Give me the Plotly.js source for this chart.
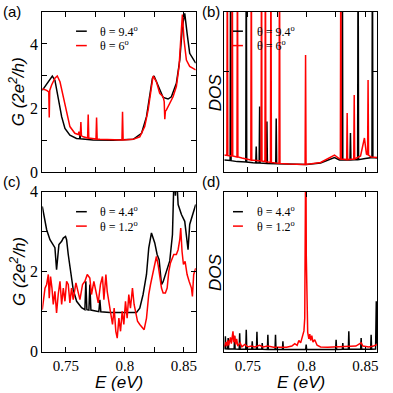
<!DOCTYPE html>
<html>
<head>
<meta charset="utf-8">
<script src="https://cdn.plot.ly/plotly-3.0.1.min.js"></script>
<style>
  body { margin: 0; padding: 0; background: #fff; }
  #plot { width: 393px; height: 393px; }
</style>
</head>
<body>
<div id="plot"></div>
<script>
// panel (a): conductance, theta = 9.4 and 6 deg
let aE_black = [0.730, 0.7351, 0.7385, 0.7407, 0.7435, 0.7464, 0.7492, 0.7534, 0.759, 0.7617, 0.762, 0.7623, 0.7731, 0.790, 0.807, 0.8141, 0.8183, 0.8211, 0.8233, 0.8247, 0.8273, 0.8295, 0.8324, 0.8366, 0.8394, 0.8436, 0.8465, 0.8487, 0.8507, 0.8527, 0.8549, 0.860]
let aG_black = [2.55, 2.82, 3.0, 2.87, 2.35, 1.73, 1.36, 1.15, 1.05, 1.04, 1.2, 1.04, 1.0, 0.99, 1.02, 1.21, 1.73, 2.46, 2.93, 3.0, 2.77, 2.56, 2.33, 2.28, 2.35, 2.77, 3.5, 4.54, 4.96, 4.33, 3.71, 3.4]
let aE_red = [0.730, 0.7337, 0.7355, 0.7359, 0.7363, 0.7379, 0.7407, 0.7427, 0.745, 0.7478, 0.7506, 0.7534, 0.7576, 0.7605, 0.761, 0.7615, 0.7622, 0.7627, 0.7632, 0.7647, 0.7684, 0.7689, 0.7694, 0.7755, 0.776, 0.7765, 0.7788, 0.7975, 0.798, 0.7985, 0.807, 0.8126, 0.8168, 0.8197, 0.8219, 0.8239, 0.8267, 0.8295, 0.8324, 0.8333, 0.8338, 0.8343, 0.8352, 0.838, 0.8408, 0.8436, 0.8459, 0.8473, 0.8487, 0.8501, 0.8521, 0.8549, 0.860]
let aG_red = [2.6, 2.55, 2.5, 1.7, 2.55, 2.72, 2.93, 3.0, 2.82, 2.35, 1.83, 1.42, 1.21, 1.17, 1.26, 1.16, 1.14, 1.56, 1.13, 1.1, 1.06, 1.8, 1.06, 1.03, 1.7, 1.03, 1.02, 1.0, 1.88, 1.0, 1.02, 1.1, 1.42, 1.94, 2.56, 3.0, 2.82, 2.46, 2.35, 2.2, 1.65, 1.9, 1.94, 2.15, 2.35, 2.67, 3.3, 4.13, 4.92, 4.13, 3.5, 3.3, 3.19]

// panel (b): DOS, theta = 9.4 and 6 deg (peaks that leave the frame are set to 12)
let bE_black = [0.730, 0.735, 0.7354, 0.7358, 0.741, 0.7483, 0.7487, 0.7491, 0.7545, 0.7568, 0.7572, 0.7576, 0.7597, 0.7601, 0.7605, 0.7659, 0.7663, 0.7667, 0.7738, 0.7742, 0.7746, 0.785, 0.800, 0.812, 0.8238, 0.828, 0.8301, 0.8305, 0.8309, 0.837, 0.8374, 0.8378, 0.8435, 0.8439, 0.8443, 0.850, 0.8557, 0.8561, 0.8565, 0.860]
let bD_black = [0.6, 0.58, 12, 0.57, 0.52, 0.5, 12, 0.5, 0.46, 0.45, 1.27, 0.45, 0.45, 3.27, 0.45, 0.43, 2.52, 0.43, 0.41, 2.68, 0.41, 0.38, 0.37, 0.45, 0.72, 0.6, 0.6, 12, 0.6, 0.6, 1.95, 0.6, 0.62, 12, 0.62, 0.68, 0.72, 12, 0.72, 0.7]
let bE_red = [0.730, 0.7322, 0.7326, 0.733, 0.7364, 0.7368, 0.7372, 0.7408, 0.7412, 0.7416, 0.745, 0.7526, 0.753, 0.7534, 0.7613, 0.7617, 0.7621, 0.7646, 0.765, 0.7654, 0.7693, 0.7697, 0.7701, 0.7766, 0.777, 0.7774, 0.785, 0.7988, 0.7992, 0.7996, 0.812, 0.8238, 0.8275, 0.8288, 0.8292, 0.8296, 0.8342, 0.8346, 0.835, 0.8402, 0.8406, 0.841, 0.846, 0.8493, 0.851, 0.852, 0.8524, 0.8528, 0.855, 0.860]
let bD_red = [0.85, 0.83, 12, 0.82, 0.8, 12, 0.8, 0.75, 12, 0.75, 0.7, 0.6, 12, 0.6, 0.55, 12, 0.55, 0.52, 12, 0.52, 0.48, 12, 0.48, 0.43, 12, 0.43, 0.4, 0.38, 5.85, 0.38, 0.48, 0.85, 0.68, 0.65, 12, 0.65, 0.62, 2.95, 0.62, 0.65, 3.85, 0.65, 0.8, 1.7, 0.9, 0.85, 4.6, 0.85, 0.75, 0.72]

// panel (c): conductance, theta = 4.4 and 1.2 deg
let cE_black = [0.730, 0.7317, 0.7337, 0.7365, 0.7379, 0.7407, 0.7421, 0.7441, 0.7464, 0.7478, 0.7497, 0.7506, 0.752, 0.754, 0.7562, 0.7591, 0.7633, 0.7661, 0.7669, 0.7678, 0.7695, 0.7703, 0.7712, 0.7779, 0.7788, 0.7796, 0.7873, 0.8098, 0.8126, 0.8154, 0.8183, 0.8202, 0.8225, 0.8253, 0.8273, 0.829, 0.831, 0.8324, 0.8352, 0.838, 0.8403, 0.8417, 0.8428, 0.8436, 0.8451, 0.8479, 0.8507, 0.8535, 0.8549, 0.8577, 0.860]
let cG_black = [3.63, 3.34, 3.05, 2.8, 2.72, 2.6, 2.05, 2.68, 2.76, 2.84, 2.88, 2.8, 2.43, 2.01, 1.55, 1.26, 1.1, 1.05, 1.76, 1.05, 1.04, 1.68, 1.04, 1.0, 1.3, 1.0, 0.98, 0.98, 1.09, 1.43, 1.93, 2.59, 2.97, 2.72, 2.43, 2.3, 1.68, 1.75, 2.01, 2.27, 2.93, 4.5, 3.9, 4.5, 3.68, 3.43, 3.26, 2.55, 3.18, 3.43, 3.68]
let cE_red = [0.730, 0.7323, 0.7337, 0.7351, 0.7359, 0.737, 0.7382, 0.7393, 0.7407, 0.7421, 0.7435, 0.745, 0.7464, 0.7478, 0.7492, 0.7506, 0.752, 0.7534, 0.7548, 0.7562, 0.7585, 0.7605, 0.7619, 0.7641, 0.7661, 0.7681, 0.7703, 0.7717, 0.7737, 0.776, 0.7774, 0.7793, 0.781, 0.7822, 0.7839, 0.785, 0.7867, 0.7881, 0.7895, 0.7909, 0.7923, 0.7935, 0.7949, 0.7963, 0.7977, 0.7991, 0.8005, 0.8019, 0.8033, 0.8047, 0.8064, 0.8078, 0.8092, 0.8107, 0.8126, 0.8149, 0.8163, 0.8183, 0.8202, 0.8217, 0.8233, 0.8253, 0.8267, 0.8281, 0.8295, 0.831, 0.8324, 0.8343, 0.8358, 0.8372, 0.8386, 0.8403, 0.8414, 0.8436, 0.8451, 0.8465, 0.8473, 0.8484, 0.8496, 0.851, 0.8527, 0.8544, 0.8564, 0.8572, 0.8583, 0.860]
let cG_red = [1.05, 1.59, 1.68, 1.93, 1.34, 1.88, 1.59, 1.18, 1.51, 0.97, 1.43, 1.76, 1.18, 1.59, 1.26, 1.76, 1.68, 1.22, 1.59, 1.3, 1.72, 1.47, 1.3, 1.68, 1.76, 1.93, 1.84, 1.43, 1.76, 1.43, 1.22, 1.68, 1.88, 1.3, 1.93, 1.51, 1.18, 0.93, 0.68, 1.09, 0.51, 0.34, 0.84, 0.51, 1.01, 0.68, 1.26, 0.84, 1.43, 1.09, 1.59, 1.18, 0.93, 0.76, 0.68, 0.59, 0.55, 0.84, 1.43, 1.68, 1.93, 2.26, 2.38, 2.18, 1.84, 1.59, 1.47, 1.47, 1.59, 2.01, 2.22, 2.34, 2.43, 2.43, 2.55, 2.8, 3.09, 2.51, 2.18, 2.26, 1.93, 1.76, 1.59, 1.38, 1.93, 2.09]

// panel (d): DOS, theta = 4.4 and 1.2 deg
let dE_black = [0.730, 0.7305, 0.7309, 0.7313, 0.7329, 0.7333, 0.7337, 0.7384, 0.7388, 0.7392, 0.7427, 0.7431, 0.7435, 0.7483, 0.7487, 0.7491, 0.7534, 0.7538, 0.7542, 0.7574, 0.7578, 0.7582, 0.7619, 0.7623, 0.7627, 0.7667, 0.7671, 0.7675, 0.7732, 0.7736, 0.774, 0.7795, 0.7799, 0.7803, 0.7993, 0.7997, 0.8001, 0.8248, 0.8252, 0.8256, 0.8305, 0.8309, 0.8313, 0.8356, 0.836, 0.8364, 0.8461, 0.8465, 0.8469, 0.8546, 0.855, 0.8554, 0.8588, 0.8594, 0.860]
let dD_black = [0.18, 0.18, 0.96, 0.18, 0.17, 0.85, 0.17, 0.17, 0.96, 0.17, 0.16, 1.15, 0.16, 0.16, 1.37, 0.16, 0.15, 0.65, 0.15, 0.15, 1.25, 0.15, 0.15, 0.54, 0.15, 0.14, 1.06, 0.14, 0.14, 1.06, 0.14, 0.14, 0.65, 0.14, 0.14, 0.44, 0.14, 0.14, 0.75, 0.14, 0.15, 0.54, 0.15, 0.15, 1.27, 0.15, 0.16, 0.85, 0.16, 0.16, 1.06, 0.16, 0.17, 3.15, 0.5]
let dE_red = [0.730, 0.7315, 0.7322, 0.733, 0.7338, 0.7352, 0.736, 0.7368, 0.7374, 0.738, 0.7388, 0.7396, 0.7405, 0.7415, 0.7435, 0.745, 0.7475, 0.750, 0.753, 0.756, 0.760, 0.763, 0.767, 0.772, 0.778, 0.783, 0.7875, 0.790, 0.792, 0.7935, 0.795, 0.7965, 0.7978, 0.7985, 0.799, 0.7994, 0.7998, 0.8003, 0.801, 0.802, 0.8028, 0.8035, 0.8045, 0.8055, 0.807, 0.809, 0.812, 0.818, 0.825, 0.830, 0.836, 0.842, 0.8465, 0.848, 0.853, 0.857, 0.860]
let dD_red = [0.3, 0.6, 0.35, 0.7, 0.4, 0.9, 0.5, 1.2, 1.27, 0.6, 1.0, 0.45, 0.8, 0.35, 0.55, 0.3, 0.45, 0.3, 0.35, 0.3, 0.4, 0.3, 0.35, 0.28, 0.3, 0.28, 0.35, 0.5, 0.4, 0.7, 0.55, 0.9, 1.3, 2.1, 6, 14, 6, 2.0, 1.2, 0.8, 1.1, 0.7, 1.0, 0.6, 0.75, 0.4, 0.3, 0.28, 0.3, 0.28, 0.3, 0.35, 0.55, 0.35, 0.3, 0.35, 0.45]

// legend labels per row of panels
let topLabels = ["θ = 9.4<sup>o</sup>", "θ = 6<sup>o</sup>"]
let bottomLabels = ["θ = 4.4<sup>o</sup>", "θ = 1.2<sup>o</sup>"]

// x ticks shared by all panels
let eTicks = [0.75, 0.775, 0.8, 0.825, 0.85]
let eTickText = ["0.75", "", "0.8", "", "0.85"]

function makeTrace(x, y, color, xa, ya) {
    return {
        x: x, y: y, xaxis: xa, yaxis: ya,
        type: "scatter", mode: "lines",
        line: { color: color, width: 1.5 },
        showlegend: false, hoverinfo: "skip"
    }
}

let data = [
    makeTrace(aE_black, aG_black, "black", "x", "y"),
    makeTrace(aE_red, aG_red, "#ff0000", "x", "y"),
    makeTrace(bE_black, bD_black, "black", "x2", "y2"),
    makeTrace(bE_red, bD_red, "#ff0000", "x2", "y2"),
    makeTrace(cE_black, cG_black, "black", "x3", "y3"),
    makeTrace(cE_red, cG_red, "#ff0000", "x3", "y3"),
    makeTrace(dE_black, dD_black, "black", "x4", "y4"),
    makeTrace(dE_red, dD_red, "#ff0000", "x4", "y4")
]

let serif = "Liberation Serif, Times New Roman, serif"
let sans = "Liberation Sans, Arial, sans-serif"

function xAxis(domain, anchor, labels) {
    return {
        domain: domain, anchor: anchor, range: [0.73, 0.86],
        tickvals: eTicks, ticktext: eTickText,
        ticks: "inside", ticklen: 5, tickcolor: "black",
        showline: true, linecolor: "black", linewidth: 1, mirror: "allticks",
        showgrid: false, zeroline: false, showticklabels: labels,
        tickfont: { family: serif, size: 15, color: "black" }
    }
}

function yAxis(domain, anchor, range, vals, text) {
    return {
        domain: domain, anchor: anchor, range: range,
        tickvals: vals, ticktext: text,
        ticks: vals.length ? "inside" : "", ticklen: 5, tickcolor: "black",
        showline: true, linecolor: "black", linewidth: 1, mirror: "allticks",
        showgrid: false, zeroline: false, showticklabels: text.length > 0,
        tickfont: { family: serif, size: 16, color: "black" }
    }
}

// legend drawn as short line samples + text inside each panel
let annotations = []
let shapes = []
function addLegend(xa, ya, labels, lineX0, lineX1, textX, rows) {
    let colors = ["black", "#ff0000"]
    for (let i = 0; i < 2; i++) {
        shapes.push({
            type: "line", xref: xa + " domain", yref: ya + " domain",
            x0: lineX0, x1: lineX1, y0: rows[i], y1: rows[i],
            line: { color: colors[i], width: 1.5 }
        })
        annotations.push({
            text: labels[i], xref: xa + " domain", yref: ya + " domain",
            x: textX, y: rows[i], xanchor: "left", yanchor: "middle", showarrow: false,
            borderpad: 0,
            font: { family: serif, size: 12, color: "black" }
        })
    }
}
addLegend("x", "y", topLabels, 0.22, 0.29, 0.37, [0.88, 0.79])
addLegend("x2", "y2", topLabels, 0.057, 0.122, 0.205, [0.88, 0.79])
addLegend("x3", "y3", bottomLabels, 0.22, 0.29, 0.37, [0.875, 0.785])
addLegend("x4", "y4", bottomLabels, 0.057, 0.122, 0.205, [0.875, 0.785])

// panel letters
let panelLetters = ["(a)", "(b)", "(c)", "(d)"]
let letterX = [0.003, 0.508, 0.003, 0.508]
let letterY = [0.972, 0.972, 0.537, 0.537]
for (let i = 0; i < 4; i++) {
    annotations.push({
        text: panelLetters[i], xref: "paper", yref: "paper",
        x: letterX[i], y: letterY[i], xanchor: "left", yanchor: "middle", showarrow: false,
        font: { family: sans, size: 15, color: "black" }
    })
}

// axis titles placed as text so they sit where the reference has them
let titleFont = { family: sans, size: 17, color: "black" }
let gTitle = "<i>G (2e<sup>2</sup>/h)</i>"
let yTitles = [[gTitle, 0.044, "y"], ["<i>DOS</i>", 0.548, "y2"], [gTitle, 0.044, "y3"], ["<i>DOS</i>", 0.548, "y4"]]
for (let i = 0; i < yTitles.length; i++) {
    annotations.push({
        text: yTitles[i][0], xref: "paper", yref: yTitles[i][2] + " domain",
        x: yTitles[i][1], y: 0.5, xanchor: "center", yanchor: "middle",
        textangle: -90, showarrow: false, font: titleFont
    })
}
let xTitleAxes = ["x3", "x4"]
for (let i = 0; i < xTitleAxes.length; i++) {
    annotations.push({
        text: "<i>E (eV)</i>", xref: xTitleAxes[i] + " domain", yref: "paper",
        x: 0.5, y: 0.026, xanchor: "center", yanchor: "middle",
        showarrow: false, borderpad: 0, font: titleFont
    })
}

let layout = {
    width: 393, height: 393,
    margin: { l: 0, r: 0, t: 0, b: 0 },
    paper_bgcolor: "white", plot_bgcolor: "white",
    showlegend: false,
    xaxis: xAxis([0.1076, 0.498], "y", false),
    yaxis: yAxis([0.5623, 0.9695], "x", [0, 5], [0, 1, 2, 3, 4, 5], ["0", "", "2", "", "4", ""]),
    xaxis2: xAxis([0.5707, 0.9593], "y2", false),
    yaxis2: yAxis([0.5623, 0.9695], "x2", [0, 8], [5], []),
    xaxis3: xAxis([0.1076, 0.498], "y3", true),
    yaxis3: yAxis([0.1051, 0.5122], "x3", [0, 4], [0, 1, 2, 3, 4], ["0", "", "2", "", "4"]),
    xaxis4: xAxis([0.5707, 0.9593], "y4", true),
    yaxis4: yAxis([0.1051, 0.5122], "x4", [0, 10], [], []),
    annotations: annotations,
    shapes: shapes
}

Plotly.newPlot("plot", data, layout, { displayModeBar: false, staticPlot: true })
</script>
</body>
</html>
